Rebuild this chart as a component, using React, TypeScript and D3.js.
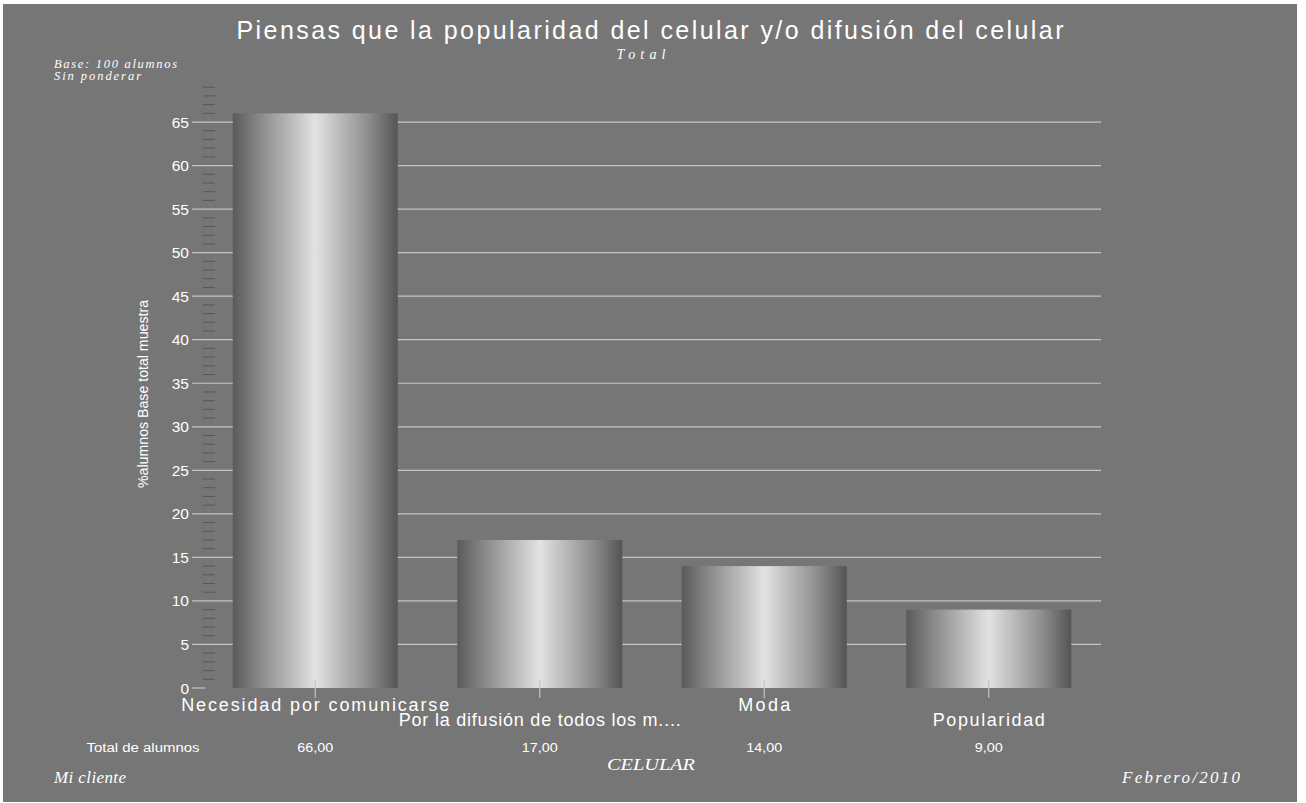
import React from "react";
import * as d3 from "d3";

const categories = [
  "Necesidad por comunicarse",
  "Por la difusión de todos los m....",
  "Moda",
  "Popularidad",
];
const values = [66, 17, 14, 9];
const totals = ["66,00", "17,00", "14,00", "9,00"];
const yTicks = [0, 5, 10, 15, 20, 25, 30, 35, 40, 45, 50, 55, 60, 65];
const labelWidths = [268, 282, 52, 112];
const totalWidths = [36, 36, 36, 28];

const W = 1306;
const H = 803;
const BG = "#767676";

export default function App() {
  const y = d3.scaleLinear().domain([0, 69]).range([688, 87.2]);
  const x = d3
    .scaleBand<string>()
    .domain(categories)
    .range([203, 1101])
    .paddingInner(0.265)
    .paddingOuter(0.1325);
  const minor = d3.range(1, 70).filter((v) => v % 5 !== 0);
  const sans = "Arial, 'Liberation Sans', sans-serif";
  const serif = "'Times New Roman', 'Liberation Serif', serif";

  return (
    <svg
      width={W}
      height={H}
      style={{ position: "absolute", left: 0, top: 0, background: "#fff" }}
    >
      <defs>
        <linearGradient id="barGrad" x1="0" x2="1" y1="0" y2="0">
          <stop offset="0" stopColor="#5a5a5a" />
          <stop offset="0.15" stopColor="#858585" />
          <stop offset="0.5" stopColor="#e2e2e2" />
          <stop offset="0.82" stopColor="#8e8e8e" />
          <stop offset="1" stopColor="#545454" />
        </linearGradient>
      </defs>
      <rect x={3} y={4} width={1294} height={798} fill={BG} />

      {/* titles */}
      <text
        x={650}
        y={39}
        textAnchor="middle"
        fill="#fff"
        fontFamily={sans}
        fontSize={25}
        textLength={827}
        lengthAdjust="spacing"
      >
        Piensas que la popularidad del celular y/o difusión del celular
      </text>
      <text x={641} y={59} textAnchor="middle" fill="#fff" fontFamily={serif} fontStyle="italic" fontSize={14} textLength={49} lengthAdjust="spacing">
        Total
      </text>
      <text x={54} y={68} fill="#fff" fontFamily={serif} fontStyle="italic" fontSize={12.5} textLength={123} lengthAdjust="spacing">
        Base: 100 alumnos
      </text>
      <text x={54} y={80} fill="#fff" fontFamily={serif} fontStyle="italic" fontSize={12.5} textLength={87} lengthAdjust="spacing">
        Sin ponderar
      </text>

      {/* minor ticks */}
      {minor.map((v) => (
        <line key={"m" + v} x1={203} x2={215} y1={y(v)} y2={y(v)} stroke="#575757" strokeWidth={1} />
      ))}
      {/* gridlines */}
      {yTicks.map((v) => (
        <line
          key={"g" + v}
          x1={192}
          x2={v === 0 ? 205 : 1101}
          y1={y(v)}
          y2={y(v)}
          stroke="#c4c4c4"
          strokeWidth={1.2}
        />
      ))}
      {yTicks.map((v) => (
        <text
          key={"t" + v}
          x={189}
          y={y(v) + 5.5}
          textAnchor="end"
          fill="#fff"
          fontFamily={sans}
          fontSize={15.5}
        >
          {v}
        </text>
      ))}

      {/* bars */}
      {categories.map((c, i) => (
        <rect
          key={"b" + c}
          x={x(c)}
          y={y(values[i])}
          width={x.bandwidth()}
          height={y(0) - y(values[i])}
          fill="url(#barGrad)"
        />
      ))}
      {categories.map((c) => {
        const cx = (x(c) as number) + x.bandwidth() / 2;
        return <line key={"ct" + c} x1={cx} x2={cx} y1={680} y2={698} stroke="#c4c4c4" strokeWidth={1.2} />;
      })}

      {/* category labels */}
      {categories.map((c, i) => {
        const cx = (x(c) as number) + x.bandwidth() / 2;
        return (
          <text
            key={"l" + c}
            x={cx}
            y={i % 2 === 0 ? 711 : 726}
            textAnchor="middle"
            fill="#fff"
            fontFamily={sans}
            fontSize={18}
            textLength={labelWidths[i]}
            lengthAdjust="spacing"
          >
            {c}
          </text>
        );
      })}

      {/* totals row */}
      <text x={143} y={752} textAnchor="middle" fill="#fff" fontFamily={sans} fontSize={12.5} textLength={113} lengthAdjust="spacingAndGlyphs">
        Total de alumnos
      </text>
      {categories.map((c, i) => {
        const cx = (x(c) as number) + x.bandwidth() / 2;
        return (
          <text key={"v" + c} x={cx} y={752} textAnchor="middle" fill="#fff" fontFamily={sans} fontSize={12.5} textLength={totalWidths[i]} lengthAdjust="spacingAndGlyphs">
            {totals[i]}
          </text>
        );
      })}

      <text x={651} y={770} textAnchor="middle" fill="#fff" fontFamily={serif} fontStyle="italic" fontSize={16} textLength={88} lengthAdjust="spacingAndGlyphs">
        CELULAR
      </text>

      {/* y axis label */}
      <text
        transform={`translate(148,394) rotate(-90)`}
        textAnchor="middle"
        fill="#fff"
        fontFamily={sans}
        fontSize={14.5}
        textLength={188}
        lengthAdjust="spacingAndGlyphs"
      >
        %alumnos Base total muestra
      </text>

      <text x={54} y={783} fill="#fff" fontFamily={serif} fontStyle="italic" fontSize={17} textLength={72} lengthAdjust="spacing">
        Mi cliente
      </text>
      <text x={1122} y={783} fill="#fff" fontFamily={serif} fontStyle="italic" fontSize={17} textLength={118} lengthAdjust="spacing">
        Febrero/2010
      </text>
    </svg>
  );
}
